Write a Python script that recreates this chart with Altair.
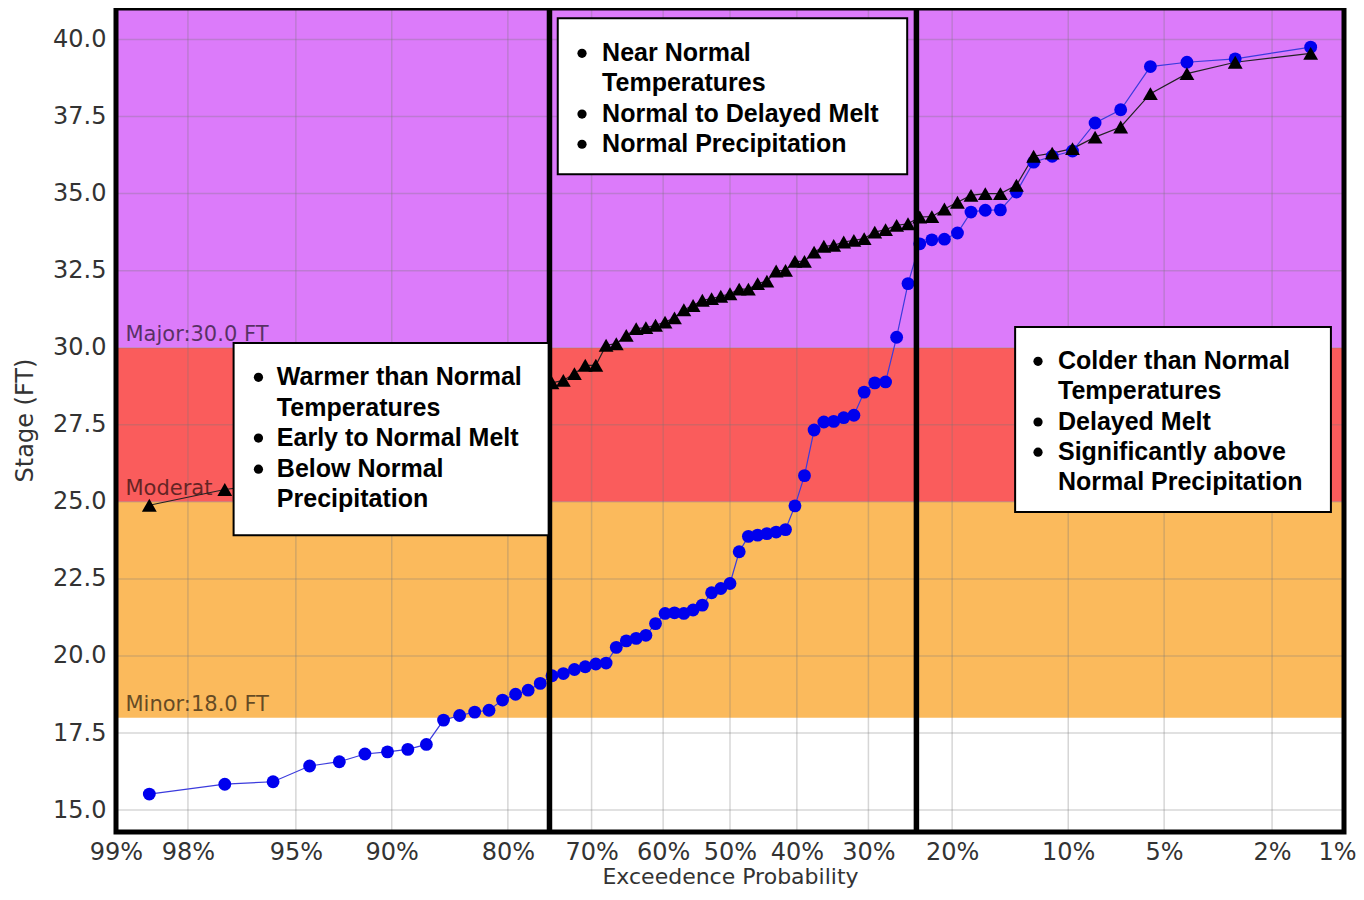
import altair as alt
import pandas as pd
from statistics import NormalDist

# ---------------- data ----------------
exceed_pct = [98.61, 97.22, 95.83, 94.44, 93.06, 91.67, 90.28, 88.89, 87.50, 86.11,
              84.72, 83.33, 81.94, 80.56, 79.17, 77.78, 76.39, 75.00, 73.61, 72.22,
              70.83, 69.44, 68.06, 66.67, 65.28, 63.89, 62.50, 61.11, 59.72, 58.33,
              56.94, 55.56, 54.17, 52.78, 51.39, 50.00, 48.61, 47.22, 45.83, 44.44,
              43.06, 41.67, 40.28, 38.89, 37.50, 36.11, 34.72, 33.33, 31.94, 30.56,
              29.17, 27.78, 26.39, 25.00, 23.61, 22.22, 20.83, 19.44, 18.06, 16.67,
              15.28, 13.89, 12.50, 11.11, 9.72, 8.33, 6.94, 5.56, 4.17, 2.78, 1.39]

stage_blue = [15.52, 15.84, 15.92, 16.43, 16.57, 16.82, 16.89, 16.97, 17.13, 17.92,
              18.07, 18.18, 18.24, 18.57, 18.76, 18.89, 19.11, 19.36, 19.43, 19.56,
              19.65, 19.74, 19.77, 20.28, 20.49, 20.57, 20.67, 21.05, 21.38, 21.40,
              21.38, 21.49, 21.65, 22.05, 22.19, 22.35, 23.38, 23.88, 23.92, 23.97,
              24.02, 24.10, 24.87, 25.85, 27.33, 27.59, 27.61, 27.73, 27.81, 28.56,
              28.86, 28.89, 30.34, 32.08, 33.37, 33.50, 33.52, 33.72, 34.40, 34.46,
              34.47, 35.05, 36.02, 36.21, 36.38, 37.29, 37.72, 39.12, 39.26, 39.37,
              39.75]

stage_black = [24.89, 25.40, 25.60, 25.80, 26.00, 26.20, 26.50, 26.70, 26.90, 27.10,
               27.30, 27.60, 27.80, 28.00, 28.20, 28.40, 28.60, 28.86, 28.94, 29.16,
               29.43, 29.43, 30.08, 30.13, 30.40, 30.62, 30.65, 30.73, 30.83, 30.97,
               31.23, 31.37, 31.54, 31.59, 31.67, 31.75, 31.90, 31.90, 32.08, 32.16,
               32.49, 32.51, 32.80, 32.80, 33.10, 33.29, 33.32, 33.43, 33.48, 33.54,
               33.75, 33.83, 33.97, 34.02, 34.24, 34.25, 34.50, 34.72, 34.94, 35.00,
               35.00, 35.27, 36.21, 36.31, 36.46, 36.83, 37.16, 38.24, 38.89, 39.26,
               39.55]

tick_pct = [99, 98, 95, 90, 80, 70, 60, 50, 40, 30, 20, 10, 5, 2, 1]
tick_labels = ["99%", "98%", "95%", "90%", "80%", "70%", "60%", "50%", "40%",
               "30%", "20%", "10%", "5%", "2%", "1%"]
stage_ticks = [15.0, 17.5, 20.0, 22.5, 25.0, 27.5, 30.0, 32.5, 35.0, 37.5, 40.0]

band_low = [18.0, 25.0, 30.0]
band_high = [25.0, 30.0, 41.02]
band_color = ["#fbba5c", "#fa5c5c", "#dc7bfa"]
band_label = ["Minor:18.0 FT", "Moderate:25.0 FT", "Major:30.0 FT"]

divider_pct = [75.3, 24.0]

box_left_pct = [97.0, 74.3, 14.0]
box_right_pct = [75.4, 25.1, 1.14]
box_top = [30.15, 40.69, 30.67]
box_bottom = [23.92, 35.63, 24.67]

note_text = ["Warmer than Normal", "Temperatures", "Early to Normal Melt", "Below Normal", "Precipitation",
             "Near Normal", "Temperatures", "Normal to Delayed Melt", "Normal Precipitation",
             "Colder than Normal", "Temperatures", "Delayed Melt", "Significantly above", "Normal Precipitation"]
note_stage = [29.04, 28.04, 27.07, 26.06, 25.09,
              39.55, 38.58, 37.58, 36.60,
              29.56, 28.59, 27.59, 26.61, 25.64]
note_bullet = [True, False, True, True, False,
               True, False, True, True,
               True, False, True, True, False]
note_box = [0, 0, 0, 0, 0, 1, 1, 1, 1, 2, 2, 2, 2, 2]
text_pct = [95.7, 68.6, 10.70]
bullet_pct = [96.3, 71.25, 12.16]

# ---------------- helpers ----------------
nd = NormalDist()


def z_of(p):
    return nd.inv_cdf(1 - p / 100.0)


Z_MIN, Z_MAX = z_of(99), z_of(1)
Y_MIN, Y_MAX = 14.29, 41.02
W, H = 1228, 824
FONT = "DejaVu Sans"
BOLD = "Liberation Sans"

tick_z = [z_of(p) for p in tick_pct]
label_expr = "".join(
    f"abs(datum.value - ({z:.6f})) < 0.0005 ? '{lab}' : " for z, lab in zip(tick_z, tick_labels)
) + "''"
last_test = f"datum.value > {Z_MAX - 0.01:.4f}"

xscale = alt.Scale(domain=[Z_MIN, Z_MAX], nice=False, zero=False)
yscale = alt.Scale(domain=[Y_MIN, Y_MAX], nice=False, zero=False)
xaxis = alt.Axis(values=tick_z, labelExpr=label_expr, title="Exceedence Probability",
                 labelFlush=False, labelOverlap=False, labelPadding=8,
                 labelAlign={"condition": {"test": last_test, "value": "right"}, "value": "center"},
                 labelOffset={"condition": {"test": last_test, "value": 12}, "value": 0},
                 titleY=56, titleBaseline="bottom", titleFontSize=22)
yaxis = alt.Axis(values=stage_ticks, format=".1f", title="Stage (FT)", labelPadding=10,
                 labelOverlap=False, titleX=-91, titleY=412, titleBaseline="middle",
                 titleAlign="center", titleAngle=270)


def X(field):
    return alt.X(field, scale=xscale, axis=xaxis)


def Y(field):
    return alt.Y(field, scale=yscale, axis=yaxis)


series = pd.DataFrame({
    "z": [z_of(p) for p in exceed_pct] * 2,
    "stage": stage_blue + stage_black,
    "series": ["blue"] * len(stage_blue) + ["black"] * len(stage_black),
})
blue_df = series[series.series == "blue"]
black_df = series[series.series == "black"]

bands = pd.DataFrame({"lo": band_low, "hi": band_high, "color": band_color, "label": band_label,
                      "zl": [z_of(98.9)] * 3})
bands["zmin"] = Z_MIN
bands["zmax"] = Z_MAX
xgrid = pd.DataFrame({"z": tick_z})
ygrid = pd.DataFrame({"stage": stage_ticks})
dividers = pd.DataFrame({"z": [z_of(p) for p in divider_pct]})
boxes = pd.DataFrame({
    "zl": [z_of(p) for p in box_left_pct],
    "zr": [z_of(p) for p in box_right_pct],
    "top": box_top, "bottom": box_bottom,
})
notes = pd.DataFrame({
    "text": note_text, "stage": note_stage, "bullet": note_bullet,
    "zt": [z_of(text_pct[b]) for b in note_box],
    "zb": [z_of(bullet_pct[b]) for b in note_box],
})
frame_df = pd.DataFrame({"zl": [Z_MIN], "zr": [Z_MAX], "lo": [Y_MIN], "hi": [Y_MAX]})

# ---------------- layers ----------------
band_layer = alt.Chart(bands).mark_rect().encode(
    x=X("zmin:Q"), x2="zmax:Q", y=Y("lo:Q"), y2="hi:Q",
    color=alt.Color("color:N", scale=None),
)

grid_style = dict(color="#777777", strokeWidth=1.5, opacity=0.3)
xgrid_layer = alt.Chart(xgrid).mark_rule(**grid_style).encode(x=X("z:Q"))
ygrid_layer = alt.Chart(ygrid).mark_rule(**grid_style).encode(y=Y("stage:Q"))

text_style = dict(align="left", baseline="alphabetic", dy=-7, font=FONT, fontSize=21,
                  color="black", opacity=0.6)
band_text = alt.Chart(bands).transform_filter("datum.lo != 25").mark_text(**text_style).encode(
    x=X("zl:Q"), y=Y("lo:Q"), text="label:N")
band_text_cut = alt.Chart(bands).transform_filter("datum.lo == 25").mark_text(
    limit=104, ellipsis=" ", **text_style).encode(x=X("zl:Q"), y=Y("lo:Q"), text="label:N")

blue_line = alt.Chart(blue_df).mark_line(color="#3b3bdd", strokeWidth=1.2).encode(
    x=X("z:Q"), y=Y("stage:Q"))
black_line = alt.Chart(black_df).mark_line(color="#222222", strokeWidth=1.2).encode(
    x=X("z:Q"), y=Y("stage:Q"))
blue_pts = alt.Chart(blue_df).mark_point(shape="circle", filled=True, size=165, color="#0000ee",
                                         opacity=1).encode(x=X("z:Q"), y=Y("stage:Q"))
black_pts = alt.Chart(black_df).mark_point(shape="triangle-up", filled=True, size=220, color="black",
                                           opacity=1).encode(x=X("z:Q"), y=Y("stage:Q"))

divider_layer = alt.Chart(dividers).mark_rule(color="black", strokeWidth=5.5).encode(x=X("z:Q"))

box_layer = alt.Chart(boxes).mark_rect(fill="white", stroke="black", strokeWidth=2).encode(
    x=X("zl:Q"), x2="zr:Q", y=Y("top:Q"), y2="bottom:Q")

note_layer = alt.Chart(notes).mark_text(
    align="left", baseline="middle", font=BOLD, fontWeight="bold", fontSize=25, color="black"
).encode(x=X("zt:Q"), y=Y("stage:Q"), text="text:N")

bullet_layer = alt.Chart(notes).transform_filter("datum.bullet").mark_point(
    shape="circle", filled=True, size=85, color="black", opacity=1
).encode(x=X("zb:Q"), y=Y("stage:Q"))

frame = alt.Chart(frame_df).mark_rect(fillOpacity=0, stroke="black", strokeWidth=5).encode(
    x=X("zl:Q"), x2="zr:Q", y=Y("lo:Q"), y2="hi:Q")

chart = alt.layer(
    band_layer, xgrid_layer, ygrid_layer, band_text, band_text_cut,
    blue_line, black_line, blue_pts, black_pts,
    divider_layer, box_layer, note_layer, bullet_layer, frame,
).properties(
    width=W, height=H,
    autosize=alt.AutoSizeParams(type="none"),
    padding={"left": 108, "top": 0, "right": 12, "bottom": 56},
).configure_view(stroke=None).configure_axis(
    grid=False, domain=False, ticks=False,
    labelFont=FONT, labelFontSize=24, labelColor="#333333",
    titleFont=FONT, titleFontSize=24, titleFontWeight="normal", titleColor="#333333",
)

chart.save("out.html", embed_options={"renderer": "svg", "actions": False})
